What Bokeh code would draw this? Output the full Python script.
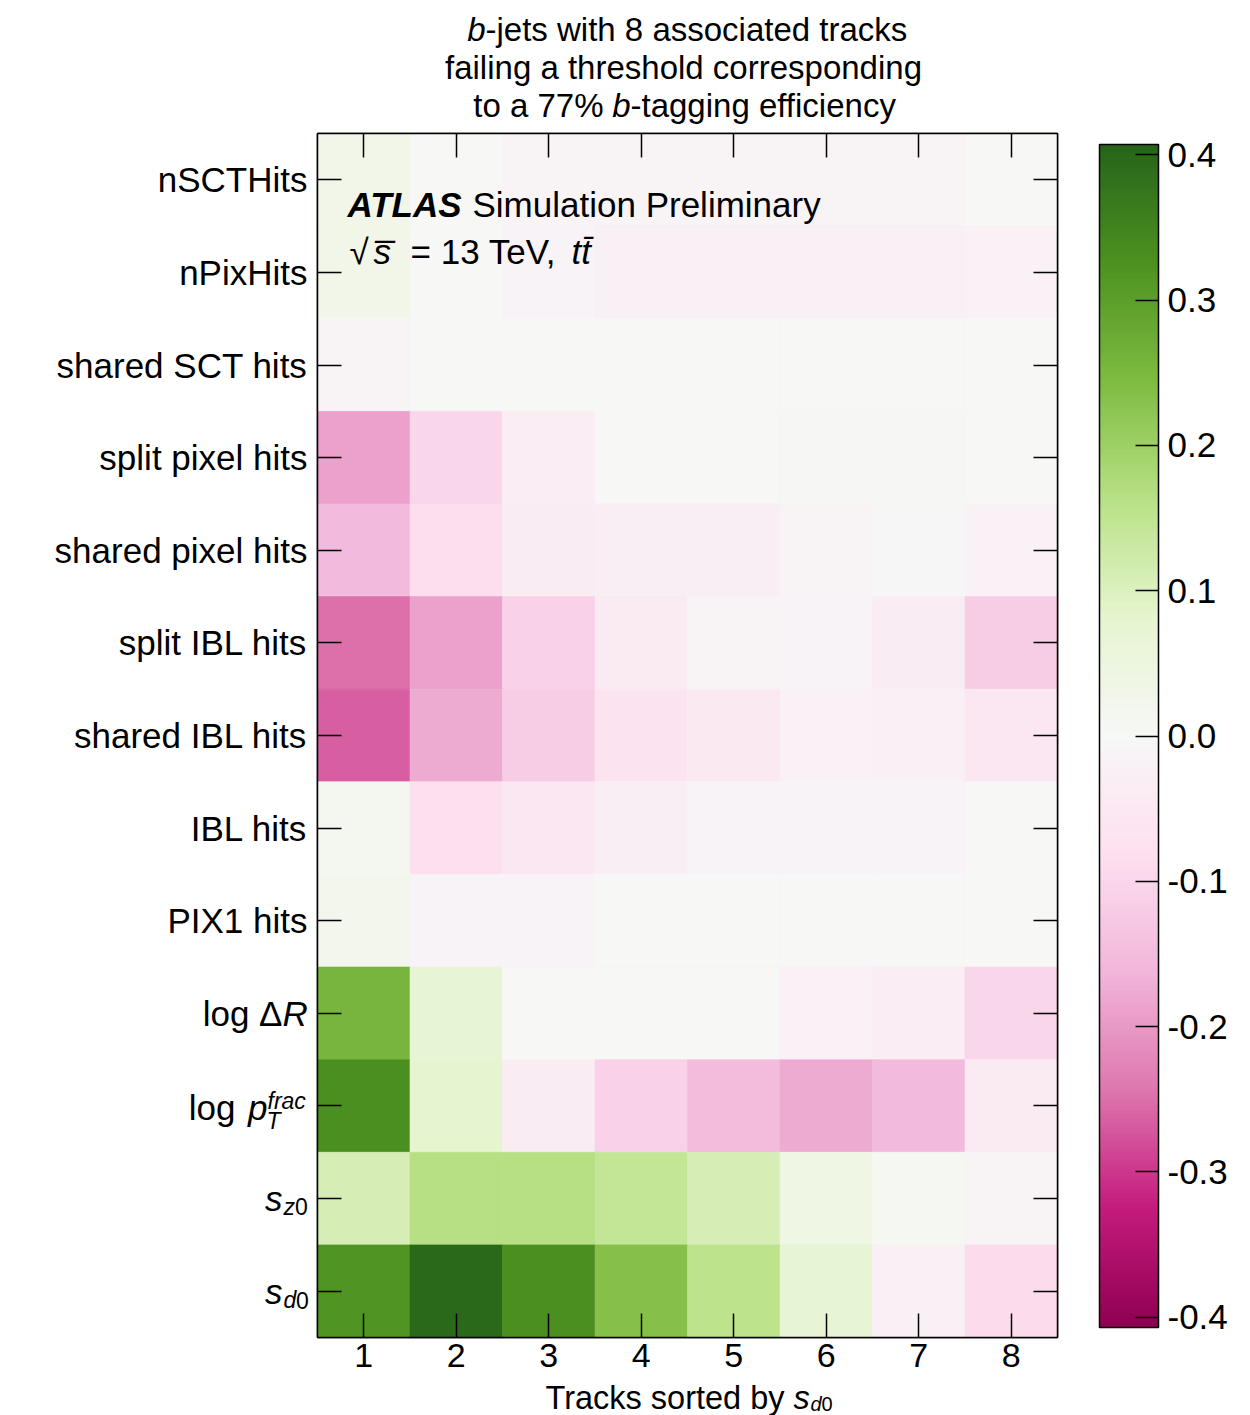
import numpy as np
from bokeh.plotting import figure
from bokeh.layouts import column, row
from bokeh.models import (ColumnDataSource, LinearColorMapper, ColorBar, FixedTicker,
                          PrintfTickFormatter, LinearAxis, Range1d, Label)
from bokeh.transform import transform
from bokeh.embed import file_html
from bokeh.resources import INLINE

# ---------------- data ----------------
tracks = [1, 2, 3, 4, 5, 6, 7, 8]
features = ["nSCTHits", "nPixHits", "shared SCT hits", "split pixel hits",
            "shared pixel hits", "split IBL hits", "shared IBL hits", "IBL hits",
            "PIX1 hits", "log ΔR", "log pT frac", "s_z0", "s_d0"]

nSCTHits          = [0.030, 0.000, -0.010, -0.010, -0.010, -0.010, -0.010, 0.000]
nPixHits          = [0.030, 0.000, -0.015, -0.025, -0.025, -0.025, -0.025, -0.020]
shared_SCT_hits   = [-0.010, 0.000, 0.000, 0.000, 0.000, 0.000, 0.000, 0.000]
split_pixel_hits  = [-0.190, -0.100, -0.035, 0.000, 0.000, 0.005, 0.005, 0.000]
shared_pixel_hits = [-0.155, -0.085, -0.040, -0.030, -0.030, -0.010, -0.005, -0.020]
split_IBL_hits    = [-0.250, -0.190, -0.110, -0.045, -0.010, -0.015, -0.040, -0.120]
shared_IBL_hits   = [-0.265, -0.175, -0.120, -0.070, -0.050, -0.020, -0.025, -0.055]
IBL_hits          = [0.015, -0.080, -0.055, -0.030, -0.015, -0.015, -0.015, 0.000]
PIX1_hits         = [0.025, -0.015, -0.015, 0.000, 0.000, 0.000, 0.000, 0.000]
log_dR            = [0.255, 0.070, 0.000, 0.000, 0.000, -0.020, -0.035, -0.100]
log_ptfrac        = [0.330, 0.080, -0.040, -0.110, -0.150, -0.175, -0.155, -0.045]
s_z0              = [0.110, 0.165, 0.165, 0.145, 0.110, 0.040, 0.010, -0.010]
s_d0              = [0.320, 0.395, 0.330, 0.235, 0.155, 0.070, -0.025, -0.090]

rows = [nSCTHits, nPixHits, shared_SCT_hits, split_pixel_hits, shared_pixel_hits,
        split_IBL_hits, shared_IBL_hits, IBL_hits, PIX1_hits, log_dR, log_ptfrac,
        s_z0, s_d0]

cbar_ticks = [-0.4, -0.3, -0.2, -0.1, 0.0, 0.1, 0.2, 0.3, 0.4]
vmin, vmax = -0.407, 0.407

# ---------------- palette (PiYG) ----------------
anchors = ["#8e0152", "#c51b7d", "#de77ae", "#f1b6da", "#fde0ef", "#f7f7f7",
           "#e6f5d0", "#b8e186", "#7fbc41", "#4d9221", "#276419"]
anc = np.array([[int(c[i:i + 2], 16) for i in (1, 3, 5)] for c in anchors], float)
tt = np.linspace(0, 1, 256)
pos = np.linspace(0, 1, len(anchors))
palette = ["#%02x%02x%02x" % tuple(int(round(np.interp(t, pos, anc[:, k]))) for k in range(3))
           for t in tt]

nrows = len(features)
xs, ys, vs = [], [], []
for r, vals in enumerate(rows):
    for c, v in zip(tracks, vals):
        xs.append(c)
        ys.append(nrows - r)
        vs.append(v)
src = ColumnDataSource(dict(x=xs, y=ys, v=vs))

mapper = LinearColorMapper(palette=palette, low=vmin, high=vmax)

FONT = "Liberation Sans"

# ---------------- page geometry ----------------
PAGE_W, PAGE_H = 1242, 1415
FX0, FY0, FW, FH = 317, 133, 740, 1204          # heatmap frame on the page
TITLE_H = 125
LEFT_W = 309
MB_L, MB_T, MB_R, MB_B = FX0 - LEFT_W, FY0 - TITLE_H, 185, 44
MAIN_H = MB_T + FH + MB_B
BOTTOM_Y0 = TITLE_H + MAIN_H
BOTTOM_H = PAGE_H - BOTTOM_Y0

# ---------------- main heatmap ----------------
p = figure(frame_width=FW, frame_height=FH,
           x_range=Range1d(0.5, 8.5), y_range=Range1d(0.5, 13.5),
           output_backend="svg", toolbar_location=None,
           min_border_left=MB_L, min_border_top=MB_T, min_border_bottom=MB_B,
           min_border_right=MB_R)
p.grid.visible = False
p.outline_line_color = "black"
p.outline_line_width = 1.5
p.background_fill_color = "white"

p.rect(x="x", y="y", width=1, height=1, source=src,
       fill_color=transform("v", mapper), line_color=transform("v", mapper),
       line_width=0.6)

xa = p.xaxis[0]
xa.ticker = FixedTicker(ticks=tracks)
xa.major_tick_in = 24
xa.major_tick_out = 0
xa.minor_tick_line_color = None
xa.major_tick_line_width = 1.5
xa.axis_line_width = 1.5
xa.major_label_text_font = FONT
xa.major_label_text_font_size = "34px"
xa.major_label_text_color = "black"
xa.major_label_standoff = 6

ya = p.yaxis[0]
ya.ticker = FixedTicker(ticks=list(range(1, nrows + 1)))
ya.major_label_overrides = {t: "" for t in range(1, nrows + 1)}
ya.major_label_text_font_size = "2px"
ya.major_label_standoff = 0
ya.major_tick_in = 24
ya.major_tick_out = 0
ya.minor_tick_line_color = None
ya.major_tick_line_width = 1.5
ya.axis_line_width = 1.5

top = LinearAxis(ticker=FixedTicker(ticks=tracks), major_tick_in=24, major_tick_out=0,
                 minor_tick_line_color=None, major_label_standoff=0,
                 major_label_overrides={t: "" for t in tracks},
                 major_label_text_font_size="2px",
                 major_tick_line_width=1.5, axis_line_width=1.5)
p.add_layout(top, "above")
right = LinearAxis(ticker=FixedTicker(ticks=list(range(1, nrows + 1))), major_tick_in=24,
                   major_tick_out=0, minor_tick_line_color=None,
                   major_label_overrides={t: "" for t in range(1, nrows + 1)},
                   major_label_text_font_size="2px", major_label_standoff=0,
                   major_tick_line_width=1.5, axis_line_width=1.5)
p.add_layout(right, "right")

cb = ColorBar(color_mapper=mapper, ticker=FixedTicker(ticks=cbar_ticks),
              formatter=PrintfTickFormatter(format="%.1f"),
              width=59, height=1183, major_tick_in=23, major_tick_out=0,
              major_tick_line_color="black", major_tick_line_width=1.5,
              minor_tick_line_color=None,
              bar_line_color="black", bar_line_width=1.5,
              border_line_color=None, background_fill_alpha=0,
              label_standoff=9, major_label_text_font=FONT,
              major_label_text_font_size="35px", major_label_text_color="black",
              padding=0, margin=0, location=(42, 10))
p.add_layout(cb, "right")


def X(px):
    return 0.5 + (px - FX0) / FW * 8.0


def Y(py):
    return 13.5 - (py - FY0) / FH * 13.0


def put(fig, x, y, text, size, style="normal", align="left"):
    # Label centres the font box on y ("middle")
    fig.add_layout(Label(x=x, y=y, text=text, text_font=FONT,
                         text_font_size="%gpx" % size, text_font_style=style,
                         text_align=align, text_baseline="middle",
                         text_color="black"))


def lab(px, pb, text, size, style="normal", align="left"):
    # pb = baseline on the page
    put(p, X(px), Y(pb - 0.3465 * size), text, size, style, align)


# ATLAS label (inside the frame)
lab(347, 216, "ATLAS", 35, "bold italic")
lab(472, 216, "Simulation Preliminary", 35)
lab(349, 263, "\u221a", 35)
lab(373, 263, "s\u0305", 35, "italic")
lab(410, 263, "= 13 TeV,", 35)
lab(571, 263, "tt\u0304", 35, "italic")


# ---------------- text panels (data units = page pixels) ----------------
def text_fig(w, h, y0, fh=None, mbt=0, mbb=0):
    fh = h if fh is None else fh
    top_y = y0 + mbt
    f = figure(frame_width=w, frame_height=fh,
               x_range=Range1d(0, w), y_range=Range1d(top_y + fh, top_y),
               output_backend="svg", toolbar_location=None,
               x_axis_location=None, y_axis_location=None, min_border=0,
               min_border_top=mbt, min_border_bottom=mbb)
    f.grid.visible = False
    f.outline_line_color = None
    f.background_fill_color = "white"
    f.border_fill_color = "white"
    return f


tfig = text_fig(PAGE_W, TITLE_H, 0)
lfig = text_fig(LEFT_W, MAIN_H, TITLE_H, fh=FH, mbt=MB_T, mbb=MB_B)
bfig = text_fig(PAGE_W, BOTTOM_H, BOTTOM_Y0)


def fput(fig, px, pb, text, size, style="normal", align="left"):
    put(fig, px, pb - 0.3465 * size, text, size, style, align)


# title (three lines)
fput(tfig, 485, 40, "b", 33, "italic", "right")
fput(tfig, 485, 40, "-jets with 8 associated tracks", 33)
fput(tfig, 683, 78, "failing a threshold corresponding", 33, align="center")
fput(tfig, 603, 116, "to a 77%", 33, align="right")
fput(tfig, 630, 116, "b", 33, "italic", "right")
fput(tfig, 630, 116, "-tagging efficiency", 33)

# y tick labels
row_c = lambda r: FY0 + (r + 0.5) * FH / nrows
for r in range(9):
    fput(lfig, 307, row_c(r) + 12.1, features[r], 35, align="right")
b = row_c(9) + 12
fput(lfig, 282, b, "log \u0394", 35, align="right")
fput(lfig, 282, b, "R", 35, "italic")
b = row_c(10) + 14
fput(lfig, 235, b, "log", 35, align="right")
fput(lfig, 267, b, "p", 35, "italic", "right")
fput(lfig, 267, b - 11, "frac", 23, "italic")
fput(lfig, 266, b + 9, "T", 23, "italic")
b = row_c(11) + 12
fput(lfig, 282, b, "s", 35, "italic", "right")
fput(lfig, 283, b + 4, "z", 23, "italic")
fput(lfig, 294.5, b + 4, "0", 23)
b = row_c(12) + 12
fput(lfig, 282, b, "s", 35, "italic", "right")
fput(lfig, 283, b + 5, "d", 23, "italic")
fput(lfig, 295.5, b + 5, "0", 23)

# x axis label
fput(bfig, 784, 1409, "Tracks sorted by", 32.5, align="right")
fput(bfig, 793, 1409, "s", 32.5, "italic")
fput(bfig, 810, 1410.5, "d", 20, "italic")
fput(bfig, 821, 1410.5, "0", 20)

layout = column(tfig, row(lfig, p), bfig)
open("out.html", "w").write(file_html(layout, INLINE))
